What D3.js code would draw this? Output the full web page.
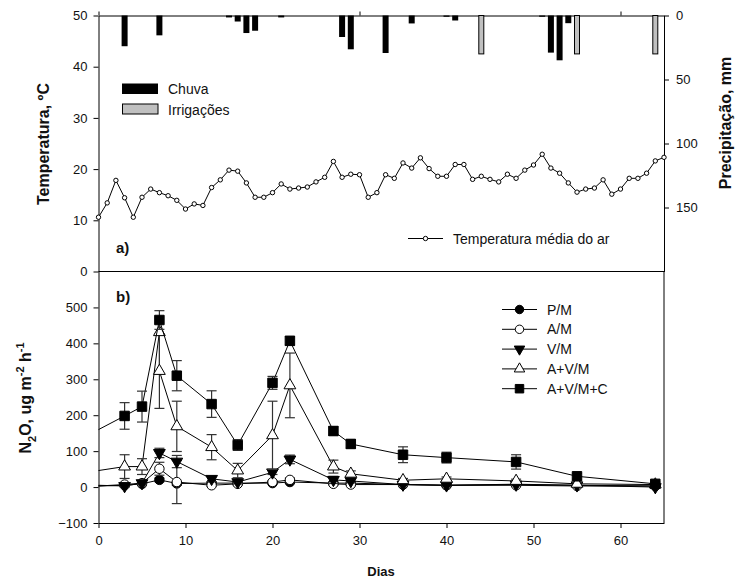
<!DOCTYPE html>
<html>
<head>
<meta charset="utf-8">
<script src="https://cdn.jsdelivr.net/npm/d3@7"></script>
<style>
  body { margin: 0; background: #fff; }
  svg text { font-family: 'Liberation Sans', Arial, sans-serif; fill: #111; }
</style>
</head>
<body>
<div class="chart"></div>
<script>
'use strict';

/* top panel: daily mean air temperature, day index = position */
var tempValues = [10.6, 13.4, 17.8, 14.4, 10.6, 14.5, 16.1, 15.4, 14.8, 13.9,
  12.2, 13.2, 12.9, 16.4, 17.9, 19.8, 19.6, 17.3, 14.5, 14.5,
  15.4, 17.1, 16.1, 16.3, 16.5, 17.5, 18.4, 21.5, 18.4, 19.0,
  18.9, 14.5, 15.4, 18.9, 18.2, 21.2, 20.2, 22.2, 20.1, 18.6,
  18.6, 20.9, 20.9, 18.0, 18.6, 18.0, 17.5, 19.0, 18.2, 19.8,
  20.8, 22.9, 20.2, 19.2, 17.3, 15.5, 16.1, 16.3, 17.9, 15.1,
  16.1, 18.2, 18.2, 19.2, 21.6, 22.3];

var rainDays = [3, 7, 15, 16, 17, 18, 21, 28, 29, 33, 36, 40, 41, 51, 52, 53, 54];
var rainMm   = [24, 15.5, 1.5, 4.7, 13.7, 11.9, 1.5, 16.8, 26.4, 29.3, 6.2, 1, 3.9, 1, 29, 35, 6];
var irrDays  = [44, 55, 64];
var irrMm    = [30, 30, 30];

/* bottom panel: N2O fluxes */
var n2oDays  = [0, 3, 5, 7, 9, 13, 16, 20, 22, 27, 29, 35, 40, 48, 55, 64];
var pm       = [3, 5, 9, 20, 10, 11, 11, 11, 14, 11, 11, 7, 5, 8, 5, 3];
var pmErr    = [0, 3, 3, 5, 5, 3, 3, 3, 4, 3, 3, 2, 2, 2, 2, 2];
var am       = [3, 7, 11, 51, 14, 5, 9, 14, 20, 9, 7, 7, 5, 5, 3, 3];
var amErr    = [0, 3, 3, 18, 60, 3, 3, 4, 5, 3, 3, 2, 2, 2, 2, 2];
var vm       = [5, 3, 11, 95, 71, 23, 14, 41, 77, 20, 17, 7, 5, 7, 5, 0];
var vmErr    = [0, 3, 3, 13, 17, 8, 5, 6, 12, 10, 5, 3, 3, 3, 3, 2];
var avmDays  = [0, 3, 5, 7, 7, 9, 13, 16, 20, 22, 27, 29, 35, 40, 48, 55, 64];
var avm      = [46, 57, 57, 431, 323, 169, 111, 46, 144, 283, 57, 37, 19, 23, 17, 9, 7];
var avmErr   = [0, 33, 22, 0, 104, 70, 35, 20, 95, 90, 18, 8, 5, 5, 5, 3, 3];
var avmc     = [160, 198, 224, 465, 310, 231, 117, 290, 407, 156, 120, 90, 82, 70, 30, 9];
var avmcErr  = [0, 37, 43, 26, 42, 37, 15, 18, 12, 12, 12, 22, 15, 20, 8, 5];

var legendNames = ['P/M', 'A/M', 'V/M', 'A+V/M', 'A+V/M+C'];

var width  = 740,
    height = 583;

var svg = d3.select('.chart')
  .append('svg')
  .attr('width', width)
  .attr('height', height);

var x  = d3.scaleLinear().domain([0, 65]).range([98.5, 664]);
var yT = d3.scaleLinear().domain([0, 50]).range([271.5, 15.5]);
var yP = d3.scaleLinear().domain([0, 200]).range([15.5, 271.5]);
var yN = d3.scaleLinear().domain([-100, 600]).range([523, 271.5]);

function styleAxis(g) {
  g.selectAll('path, line').attr('stroke', '#000').attr('stroke-width', 1);
  g.selectAll('text')
    .style('font-family', 'Liberation Sans, Arial, sans-serif')
    .style('font-size', '13px')
    .attr('fill', '#111');
}

// ---- axes ----
svg.append('g')
  .attr('transform', 'translate(' + x(0) + ',0)')
  .call(d3.axisLeft(yT).tickValues([0, 10, 20, 30, 40, 50]).tickSize(5).tickSizeOuter(0).tickPadding(6))
  .call(styleAxis);

svg.append('g')
  .attr('transform', 'translate(' + x(0) + ',0)')
  .call(d3.axisLeft(yN).tickValues([-100, 0, 100, 200, 300, 400, 500]).tickSize(5).tickSizeOuter(0).tickPadding(6))
  .call(styleAxis);

svg.append('g')
  .attr('transform', 'translate(' + x(65) + ',0)')
  .call(d3.axisRight(yP).tickValues([0, 50, 100, 150]).tickSize(5).tickSizeOuter(0).tickPadding(7))
  .call(styleAxis);

svg.append('line')
  .attr('x1', x(65)).attr('x2', x(65))
  .attr('y1', yN(600)).attr('y2', yN(-100))
  .attr('stroke', '#000');

svg.append('g')
  .attr('transform', 'translate(0,' + yN(-100) + ')')
  .call(d3.axisBottom(x).tickValues([0, 10, 20, 30, 40, 50, 60]).tickSize(5).tickSizeOuter(0).tickPadding(8))
  .call(styleAxis);

svg.append('g')
  .attr('transform', 'translate(0,' + yT(50) + ')')
  .call(d3.axisTop(x).tickValues([0, 30, 60]).tickSize(4).tickSizeOuter(0).tickFormat(''))
  .call(styleAxis);

svg.append('line')
  .attr('x1', x(0)).attr('x2', x(65))
  .attr('y1', yT(0)).attr('y2', yT(0))
  .attr('stroke', '#000');

// ---- precipitation bars (hang from the top) ----
var bars = svg.append('g');
bars.selectAll('rect.rain')
  .data(rainDays).enter()
  .append('rect')
    .attr('class', 'rain')
    .attr('x', function(d) { return x(d) - 3; })
    .attr('y', yP(0))
    .attr('width', 6)
    .attr('height', function(d, i) { return yP(rainMm[i]) - yP(0); })
    .attr('fill', '#000');

bars.selectAll('rect.irr')
  .data(irrDays).enter()
  .append('rect')
    .attr('class', 'irr')
    .attr('x', function(d) { return x(d) - 2.5; })
    .attr('y', yP(0))
    .attr('width', 5)
    .attr('height', function(d, i) { return yP(irrMm[i]) - yP(0); })
    .attr('fill', '#c0c0c0')
    .attr('stroke', '#000')
    .attr('stroke-width', 1);

// ---- temperature line ----
var tLine = d3.line()
  .x(function(d, i) { return x(i); })
  .y(function(d) { return yT(d); });

svg.append('path')
  .datum(tempValues)
  .attr('d', tLine)
  .attr('fill', 'none')
  .attr('stroke', '#000');

svg.selectAll('circle.temp')
  .data(tempValues).enter()
  .append('circle')
    .attr('class', 'temp')
    .attr('cx', function(d, i) { return x(i); })
    .attr('cy', function(d) { return yT(d); })
    .attr('r', 2.2)
    .attr('fill', '#fff')
    .attr('stroke', '#000');

// ---- N2O series ----
var series = [
  { days: n2oDays, vals: pm,   err: pmErr,   shape: d3.symbolCircle,   size: 70, fill: '#000', rot: 0 },
  { days: n2oDays, vals: am,   err: amErr,   shape: d3.symbolCircle,   size: 70, fill: '#fff', rot: 0 },
  { days: n2oDays, vals: vm,   err: vmErr,   shape: d3.symbolTriangle, size: 60, fill: '#000', rot: 180 },
  { days: avmDays, vals: avm,  err: avmErr,  shape: d3.symbolTriangle, size: 60, fill: '#fff', rot: 0 },
  { days: n2oDays, vals: avmc, err: avmcErr, shape: d3.symbolSquare,   size: 90, fill: '#000', rot: 0 }
];

series.forEach(function(s) {
  var pts = s.vals.map(function(v, i) { return { day: s.days[i], v: v, e: s.err[i] }; });
  var g = svg.append('g');

  g.append('path')
    .datum(pts)
    .attr('d', d3.line()
      .x(function(d) { return x(d.day); })
      .y(function(d) { return yN(d.v); }))
    .attr('fill', 'none')
    .attr('stroke', '#000');

  var eb = g.selectAll('g.err')
    .data(pts.filter(function(d) { return d.day > 0 && d.e > 0; })).enter()
    .append('g')
      .attr('stroke', '#333')
      .attr('stroke-width', 1.2);
  eb.append('line')
    .attr('x1', function(d) { return x(d.day); })
    .attr('x2', function(d) { return x(d.day); })
    .attr('y1', function(d) { return yN(d.v - d.e); })
    .attr('y2', function(d) { return yN(d.v + d.e); });
  eb.append('line')
    .attr('x1', function(d) { return x(d.day) - 5; })
    .attr('x2', function(d) { return x(d.day) + 5; })
    .attr('y1', function(d) { return yN(d.v + d.e); })
    .attr('y2', function(d) { return yN(d.v + d.e); });
  eb.append('line')
    .attr('x1', function(d) { return x(d.day) - 5; })
    .attr('x2', function(d) { return x(d.day) + 5; })
    .attr('y1', function(d) { return yN(d.v - d.e); })
    .attr('y2', function(d) { return yN(d.v - d.e); });

  g.selectAll('path.mark')
    .data(pts.filter(function(d) { return d.day > 0; })).enter()
    .append('path')
      .attr('class', 'mark')
      .attr('d', d3.symbol().type(s.shape).size(s.size))
      .attr('transform', function(d) {
        return 'translate(' + x(d.day) + ',' + yN(d.v) + ') rotate(' + s.rot + ')';
      })
      .attr('fill', s.fill)
      .attr('stroke', '#000');
});

// ---- legends ----
svg.append('rect')
  .attr('x', 122).attr('y', 83.5).attr('width', 36).attr('height', 10.5)
  .attr('fill', '#000');
svg.append('text').attr('x', 168).attr('y', 94).style('font-size', '14px').text('Chuva');
svg.append('rect')
  .attr('x', 122.5).attr('y', 104).attr('width', 35.5).attr('height', 10)
  .attr('fill', '#c0c0c0').attr('stroke', '#000');
svg.append('text').attr('x', 168).attr('y', 115).style('font-size', '14px').text('Irrigações');

svg.append('line')
  .attr('x1', 408).attr('x2', 443).attr('y1', 238.5).attr('y2', 238.5)
  .attr('stroke', '#000');
svg.append('circle')
  .attr('cx', 425.5).attr('cy', 238.5).attr('r', 2.2)
  .attr('fill', '#fff').attr('stroke', '#000');
svg.append('text').attr('x', 453).attr('y', 243.5).style('font-size', '14px')
  .text('Temperatura média do ar');

var leg = svg.append('g');
series.forEach(function(s, i) {
  var ly = 309.5 + i * 19.8;
  leg.append('line')
    .attr('x1', 502).attr('x2', 537).attr('y1', ly).attr('y2', ly)
    .attr('stroke', '#000');
  leg.append('path')
    .attr('d', d3.symbol().type(s.shape).size(s.size * 0.8))
    .attr('transform', 'translate(519.5,' + ly + ') rotate(' + s.rot + ')')
    .attr('fill', s.fill)
    .attr('stroke', '#000');
  leg.append('text')
    .attr('x', 547).attr('y', ly + 5)
    .style('font-size', '14px')
    .text(legendNames[i]);
});

// ---- panel tags and titles ----
svg.append('text').attr('x', 116).attr('y', 253).style('font-size', '15px')
  .style('font-weight', 'bold').text('a)');
svg.append('text').attr('x', 116).attr('y', 302).style('font-size', '15px')
  .style('font-weight', 'bold').text('b)');

svg.append('text')
  .attr('transform', 'translate(49,144) rotate(-90)')
  .attr('text-anchor', 'middle')
  .style('font-size', '16px').style('font-weight', 'bold')
  .text('Temperatura, ºC');

svg.append('text')
  .attr('transform', 'translate(731,123) rotate(-90)')
  .attr('text-anchor', 'middle')
  .style('font-size', '16px').style('font-weight', 'bold')
  .text('Precipitação, mm');

var n2oTitle = svg.append('text')
  .attr('transform', 'translate(31,398) rotate(-90)')
  .attr('text-anchor', 'middle')
  .style('font-size', '16px').style('font-weight', 'bold');
n2oTitle.append('tspan').text('N');
n2oTitle.append('tspan').attr('dy', 5).style('font-size', '11px').text('2');
n2oTitle.append('tspan').attr('dy', -5).text('O, ug m');
n2oTitle.append('tspan').attr('dy', -7).style('font-size', '11px').text('-2');
n2oTitle.append('tspan').attr('dy', 7).text(' h');
n2oTitle.append('tspan').attr('dy', -7).style('font-size', '11px').text('-1');

svg.append('text')
  .attr('x', 381).attr('y', 576)
  .attr('text-anchor', 'middle')
  .style('font-size', '13px').style('font-weight', 'bold')
  .text('Dias');
</script>
</body>
</html>
